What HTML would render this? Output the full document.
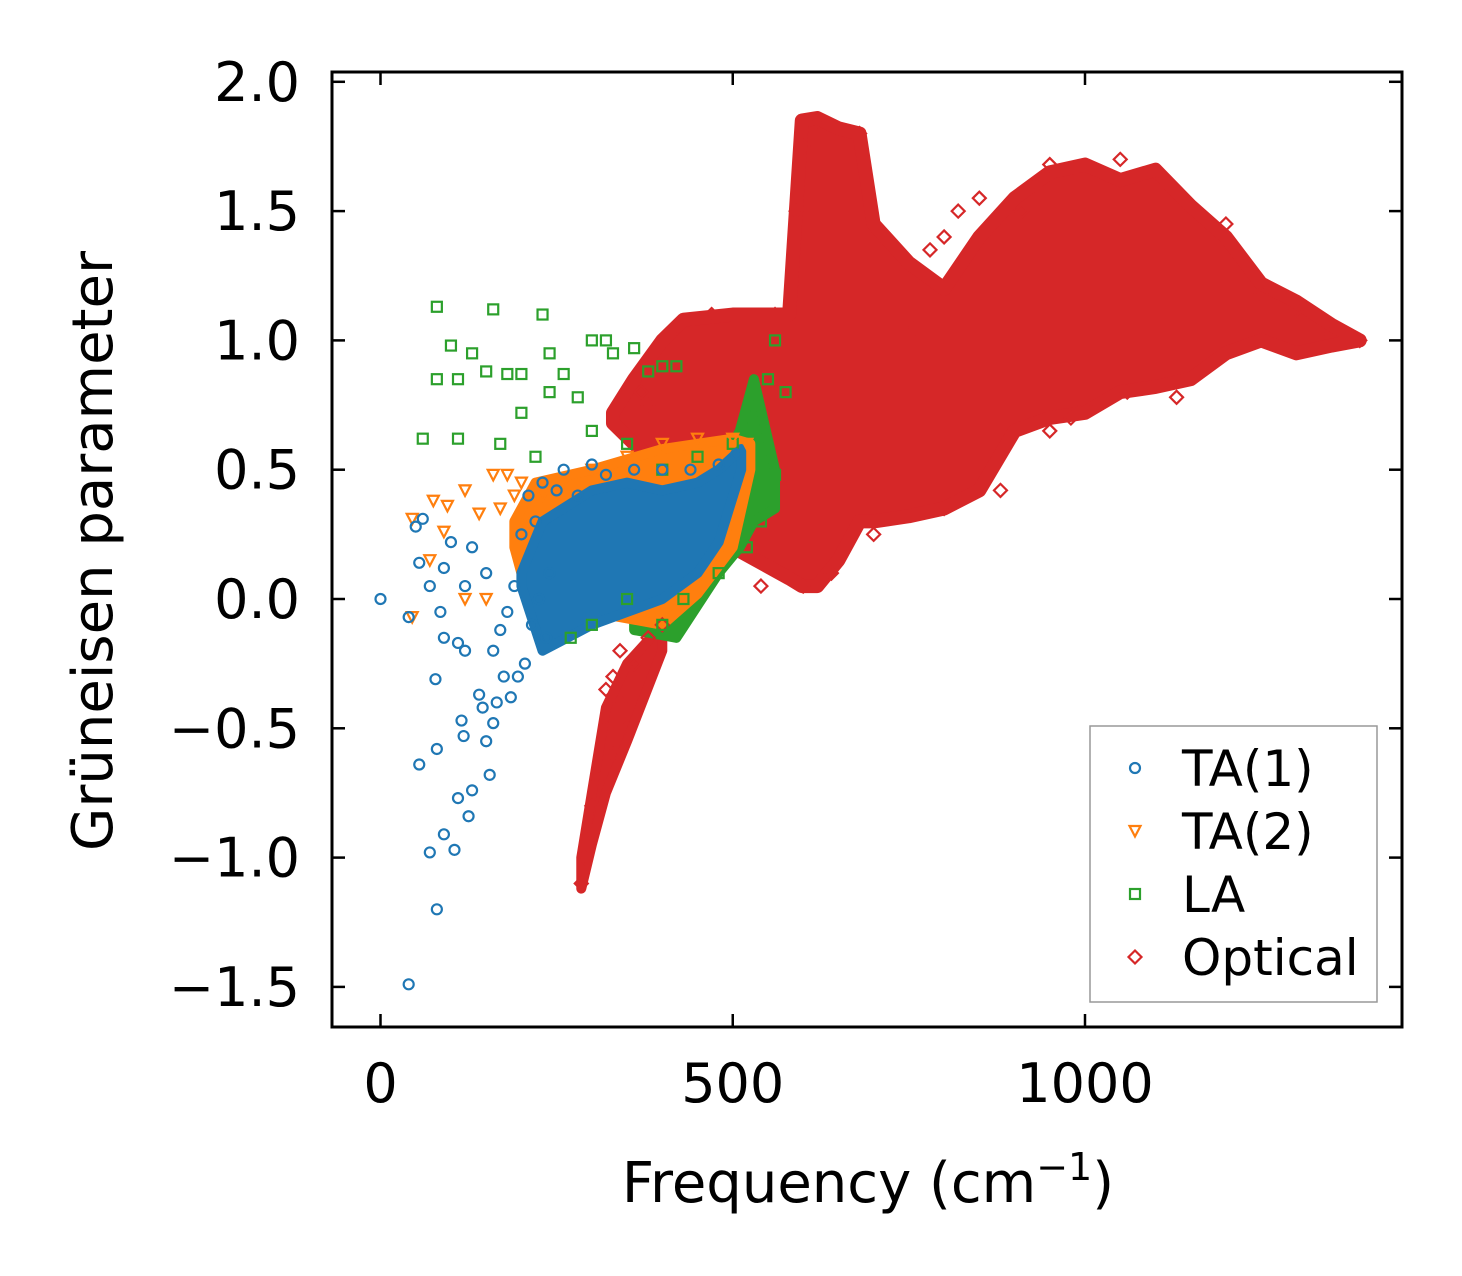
<!DOCTYPE html>
<html><head><meta charset="utf-8"><style>
html,body{margin:0;padding:0;background:#fff;}
svg{display:block;font-family:"DejaVu Sans","Liberation Sans",sans-serif;}
</style></head><body>
<svg id="chart" width="1462" height="1276" viewBox="0 0 1462 1276" xmlns="http://www.w3.org/2000/svg">
<g id="plot"></g>
<g id="axes"></g>
</svg>
<script>
// ---- data ----
const xTicks = [0, 500, 1000];
const yTicks = [2.0, 1.5, 1.0, 0.5, 0.0, -0.5, -1.0, -1.5];
const seriesNames = ["TA(1)", "TA(2)", "LA", "Optical"];
// dense optical band: frequency, upper, lower
const optFreq  = [330, 360, 400, 430, 500, 580, 598, 620, 650, 680, 700, 750, 800, 850, 900, 950, 1000, 1050, 1100, 1150, 1200, 1250, 1300, 1350, 1390];
const optUpper = [0.72, 0.85, 1.0, 1.08, 1.1, 1.1, 1.85, 1.86, 1.82, 1.8, 1.45, 1.3, 1.2, 1.4, 1.55, 1.65, 1.68, 1.62, 1.66, 1.52, 1.4, 1.22, 1.15, 1.06, 1.0];
const optLower = [0.68, 0.6, 0.5, 0.35, 0.2, 0.08, 0.05, 0.05, 0.15, 0.3, 0.3, 0.32, 0.35, 0.42, 0.65, 0.7, 0.72, 0.8, 0.82, 0.85, 0.95, 1.0, 0.95, 0.98, 1.0];
// lower optical arm
const armFreq  = [285, 300, 320, 350, 400];
const armUpper = [-1.0, -0.75, -0.42, -0.25, -0.1];
const armLower = [-1.12, -0.95, -0.75, -0.55, -0.2];
// dense bands
const ta1Freq  = [200, 230, 300, 350, 400, 450, 480, 512];
const ta1Upper = [0.1, 0.3, 0.42, 0.45, 0.42, 0.45, 0.5, 0.58];
const ta1Lower = [0.05, -0.2, -0.1, -0.05, 0.0, 0.1, 0.22, 0.5];
const ta2Freq  = [190, 220, 300, 400, 450, 500, 525];
const ta2Upper = [0.3, 0.45, 0.5, 0.58, 0.6, 0.62, 0.6];
const ta2Lower = [0.2, -0.1, -0.05, -0.1, 0.02, 0.2, 0.5];
const laFreq  = [360, 420, 480, 510, 530, 560];
const laUpper = [0.0, 0.2, 0.5, 0.65, 0.85, 0.5];
const laLower = [-0.12, -0.15, 0.1, 0.2, 0.3, 0.35];
// scattered markers
const ta1X = [0,40,40,55,55,70,80,78,80,90,85,90,105,110,115,118,125,130,110,120,140,145,150,155,160,165,175,185,195,205,60,50,70,90,100,120,130,150,160,170,180,200,210,220,230,260,300,250,280,320,360,400,440,480,505,215,225,240,190,235];
const ta1Y = [0,-1.49,-0.07,-0.64,0.14,-0.98,-1.2,-0.31,-0.58,-0.91,-0.05,-0.15,-0.97,-0.77,-0.47,-0.53,-0.84,-0.74,-0.17,-0.2,-0.37,-0.42,-0.55,-0.68,-0.48,-0.4,-0.3,-0.38,-0.3,-0.25,0.31,0.28,0.05,0.12,0.22,0.05,0.2,0.1,-0.2,-0.12,-0.05,0.25,0.4,0.3,0.45,0.5,0.52,0.42,0.4,0.48,0.5,0.5,0.5,0.52,0.56,-0.1,0.0,0.1,0.05,-0.15];
const ta2X = [45,45,75,70,90,95,120,140,160,180,200,210,230,260,300,350,400,450,500,520,150,120,170,190];
const ta2Y = [0.31,-0.07,0.38,0.15,0.26,0.36,0.42,0.33,0.48,0.48,0.45,0.3,0.4,0.45,0.5,0.55,0.6,0.62,0.62,0.6,0.0,0.0,0.35,0.4];
const laX = [80,160,230,100,130,80,110,150,180,200,240,300,320,360,400,60,110,170,200,240,280,300,350,400,450,500,530,550,560,540,520,480,430,400,350,300,270,220,260,330,380,420,560,575];
const laY = [1.13,1.12,1.1,0.98,0.95,0.85,0.85,0.88,0.87,0.87,0.95,1.0,1.0,0.97,0.9,0.62,0.62,0.6,0.72,0.8,0.78,0.65,0.6,0.5,0.55,0.6,0.7,0.85,0.48,0.3,0.2,0.1,0.0,-0.1,0.0,-0.1,-0.15,0.55,0.87,0.95,0.88,0.9,1.0,0.8];
const optX = [330,320,340,320,330,310,300,300,290,285,340,380,360,350,400,380,370,420,470,560,590,600,620,680,760,820,850,950,1050,1100,1200,1390,1000,950,880,800,700,640,600,540,800,780,1130,1340,1300,1250,930,910,980,1060];
const optY = [-0.3,-0.35,-0.4,-0.5,-0.6,-0.7,-0.8,-0.9,-1.0,-1.1,-0.2,-0.15,-0.25,-0.5,-0.1,0.75,0.8,1.05,1.1,1.1,1.5,1.75,1.85,1.8,1.05,1.5,1.55,1.68,1.7,1.65,1.45,1.0,0.75,0.65,0.42,0.35,0.25,0.1,0.05,0.05,1.4,1.35,0.78,1.05,1.12,1.18,1.6,1.5,0.7,0.8];

// ---- scales ----
const X0 = 380.5, XS = 0.7045;
const Y0 = 599, YS = 258.6;
const sx = v => X0 + v * XS;
const sy = v => Y0 - v * YS;
const L = 332, R = 1402, T = 72, B = 1027;
const NS = "http://www.w3.org/2000/svg";
const colors = ["#1f77b4", "#ff7f0e", "#2ca02c", "#d62728"];
const plot = document.getElementById("plot");
const axes = document.getElementById("axes");
function mk(tag, attrs, parent) {
  const e = document.createElementNS(NS, tag);
  for (const k in attrs) e.setAttribute(k, attrs[k]);
  parent.appendChild(e);
  return e;
}
function band(fr, up, lo, color, name, sw) {
  let pts = [];
  for (let i = 0; i < fr.length; i++) pts.push(sx(fr[i]) + "," + sy(up[i]));
  for (let i = fr.length - 1; i >= 0; i--) pts.push(sx(fr[i]) + "," + sy(lo[i]));
  const p = mk("polygon", {points: pts.join(" "), fill: color, stroke: color, "stroke-width": sw, "stroke-linejoin": "round"}, plot);
  
  
}
function marker(kind, cx, cy, color, parent) {
  let e;
  if (kind === 0) e = mk("circle", {cx: cx, cy: cy, r: 5, fill: "none", stroke: color, "stroke-width": 2.2}, parent);
  else if (kind === 1) e = mk("polygon", {points: `${cx-5.5},${cy-5} ${cx+5.5},${cy-5} ${cx},${cy+5.5}`, fill: "none", stroke: color, "stroke-width": 2.2}, parent);
  else if (kind === 2) e = mk("rect", {x: cx-5, y: cy-5, width: 10, height: 10, fill: "none", stroke: color, "stroke-width": 2.2}, parent);
  else e = mk("polygon", {points: `${cx},${cy-6.5} ${cx+6.5},${cy} ${cx},${cy+6.5} ${cx-6.5},${cy}`, fill: "none", stroke: color, "stroke-width": 2.2}, parent);
  return e;
}
function scatter(xs, ys, kind, name) {
  for (let i = 0; i < xs.length; i++) {
    const m = marker(kind, sx(xs[i]), sy(ys[i]), colors[kind], plot);
    
    
  }
}
band(optFreq, optUpper, optLower, colors[3], "optical-band", 14);
band(armFreq, armUpper, armLower, colors[3], "optical-arm-band", 10);
band(laFreq, laUpper, laLower, colors[2], "la-band", 10);
band(ta2Freq, ta2Upper, ta2Lower, colors[1], "ta2-band", 10);
band(ta1Freq, ta1Upper, ta1Lower, colors[0], "ta1-band", 10);
scatter(optX, optY, 3, "optical-point");
scatter(laX, laY, 2, "la-point");
scatter(ta2X, ta2Y, 1, "ta2-point");
scatter(ta1X, ta1Y, 0, "ta1-point");

const frame = mk("rect", {x: L, y: T, width: R - L, height: B - T, fill: "none", stroke: "#000", "stroke-width": 3}, axes);


xTicks.forEach(v => {
  const x = sx(v);
  mk("line", {x1: x, y1: B, x2: x, y2: B - 13, stroke: "#000", "stroke-width": 2.5}, axes);
  mk("line", {x1: x, y1: T, x2: x, y2: T + 13, stroke: "#000", "stroke-width": 2.5}, axes);
  const t = mk("text", {x: x, y: 1102, "text-anchor": "middle", "font-size": 54}, axes);
  t.textContent = String(v);
  
  
});
yTicks.forEach(v => {
  const y = sy(v);
  mk("line", {x1: L, y1: y, x2: L + 13, y2: y, stroke: "#000", "stroke-width": 2.5}, axes);
  mk("line", {x1: R, y1: y, x2: R - 13, y2: y, stroke: "#000", "stroke-width": 2.5}, axes);
  const t = mk("text", {x: 300, y: y + 19, "text-anchor": "end", "font-size": 54}, axes);
  t.textContent = (v < 0 ? "\u2212" : "") + Math.abs(v).toFixed(1);
  
  
});
const xt = mk("text", {x: 868, y: 1202, "text-anchor": "middle", "font-size": 56}, axes);
xt.innerHTML = 'Frequency (cm<tspan dy="-22" font-size="38">\u22121</tspan><tspan dy="22">)</tspan>';


const yt = mk("text", {x: 0, y: 0, "text-anchor": "middle", "font-size": 56, transform: "translate(112,551) rotate(-90)"}, axes);
yt.textContent = "Grüneisen parameter";



const lg = mk("g", {}, axes);


mk("rect", {x: 1090, y: 726, width: 287, height: 276, fill: "#fff", "fill-opacity": 0.8, stroke: "#999", "stroke-width": 1.5}, lg);
seriesNames.forEach((n, i) => {
  const y = 768 + i * 63;
  const g = mk("g", {}, lg);
  
  
  marker(i, 1135, y, colors[i], g);
  const t = mk("text", {x: 1182, y: y + 18, "font-size": 50}, g);
  t.textContent = n;
});
</script>
</body></html>
